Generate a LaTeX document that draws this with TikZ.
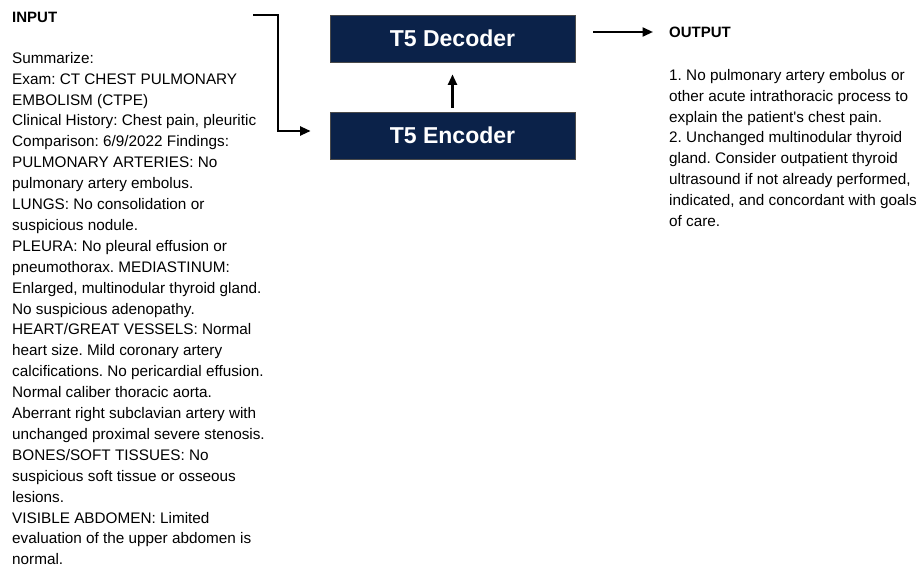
\documentclass[tikz,border=0pt]{standalone}
\usepackage{fontspec}
\setmainfont{Liberation Sans}
\usetikzlibrary{arrows.meta}
\frenchspacing
\definecolor{navy}{HTML}{0B2249}
\definecolor{boxedge}{HTML}{4A4A4A}
\tikzset{
  x=1pt, y=-1pt,
  model/.style={draw=boxedge, line width=0.8pt, fill=navy, text=white,
    minimum width=245pt, minimum height=47pt, inner sep=0pt,
    font=\fontsize{23}{23}\selectfont\bfseries},
  flow/.style={line width=2.2pt, -{Triangle[length=10.5pt,width=9pt]}},
  body/.style={anchor=north west, inner sep=0pt, align=left,
    font=\fontsize{15.3}{20.9}\selectfont},
  heading/.style={anchor=north west, inner sep=0pt,
    font=\fontsize{15}{15}\selectfont\bfseries}
}
\begin{document}
\begin{tikzpicture}
\useasboundingbox (0,0) rectangle (921,568);

% model blocks
\node[model] (dec) at (452.5,38.5) {T5 Decoder};
\node[model] (enc) at (452.5,135.5) {T5 Encoder};

% input column
\node[heading] (inhead) at (12,11.5) {INPUT};
\node[body] (intext) at (12,52) {Summarize:\\
Exam: CT CHEST PULMONARY\\
EMBOLISM (CTPE)\\
Clinical History: Chest pain, pleuritic\\
Comparison: 6/9/2022 Findings:\\
PULMONARY ARTERIES: No\\
pulmonary artery embolus.\\
LUNGS: No consolidation or\\
suspicious nodule.\\
PLEURA: No pleural effusion or\\
pneumothorax. MEDIASTINUM:\\
Enlarged, multinodular thyroid gland.\\
No suspicious adenopathy.\\
HEART/GREAT VESSELS: Normal\\
heart size. Mild coronary artery\\
calcifications. No pericardial effusion.\\
Normal caliber thoracic aorta.\\
Aberrant right subclavian artery with\\
unchanged proximal severe stenosis.\\
BONES/SOFT TISSUES: No\\
suspicious soft tissue or osseous\\
lesions.\\
VISIBLE ABDOMEN: Limited\\
evaluation of the upper abdomen is\\
normal.};

% output column
\node[heading] (outhead) at (669,26.5) {OUTPUT};
\node[body] (outtext) at (669,69) {1. No pulmonary artery embolus or\\
other acute intrathoracic process to\\
explain the patient\textquotesingle s chest pain.\\
2. Unchanged multinodular thyroid\\
gland. Consider outpatient thyroid\\
ultrasound if not already performed,\\
indicated, and concordant with goals\\
of care.};

% connectors
\coordinate (src) at (253,15);
\draw[flow] (src) -| (278,131) -- ([xshift=-19pt]enc.west |- 0,131);
\draw[flow] ([yshift=4pt]enc.north) -- ([yshift=-12pt]dec.south);
\coordinate (outstart) at (593,32);
\draw[flow] (outstart) -- ([xshift=-16pt]outhead.west |- outstart);
\end{tikzpicture}
\end{document}
